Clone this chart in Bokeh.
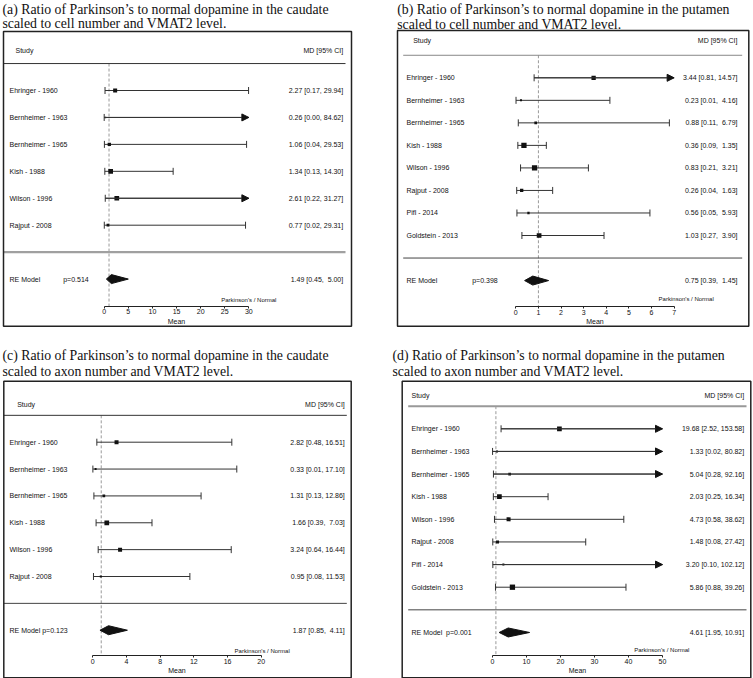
from bokeh.plotting import figure
from bokeh.models import (Range1d, FixedTicker, ColumnDataSource, Arrow,
                          NormalHead, BoxAnnotation)
from bokeh.layouts import column, row
from bokeh.embed import file_html
from bokeh.resources import INLINE
from bokeh.core.properties import value

# ---------------- data ----------------
studies_a = ["Ehringer - 1960", "Bernheimer - 1963", "Bernheimer - 1965",
             "Kish - 1988", "Wilson - 1996", "Rajput - 2008"]
md_a = [2.27, 0.26, 1.06, 1.34, 2.61, 0.77]
lo_a = [0.17, 0.00, 0.04, 0.13, 0.22, 0.02]
hi_a = [29.94, 84.62, 29.53, 14.30, 31.27, 29.31]
wt_a = [4.0, 1.5, 3.3, 4.7, 4.7, 2.7]
re_a = [1.49, 0.45, 5.00]
p_a = "p=0.514"
ticks_a = [0, 5, 10, 15, 20, 25, 30]

studies_b = ["Ehringer - 1960", "Bernheimer - 1963", "Bernheimer - 1965",
             "Kish - 1988", "Wilson - 1996", "Rajput - 2008", "Pifl - 2014",
             "Goldstein - 2013"]
md_b = [3.44, 0.23, 0.88, 0.36, 0.83, 0.26, 0.56, 1.03]
lo_b = [0.81, 0.01, 0.11, 0.09, 0.21, 0.04, 0.05, 0.27]
hi_b = [14.57, 4.16, 6.79, 1.35, 3.21, 1.63, 5.93, 3.90]
wt_b = [4.3, 2.0, 2.7, 5.3, 5.3, 3.3, 2.3, 4.7]
re_b = [0.75, 0.39, 1.45]
p_b = "p=0.398"
ticks_b = [0, 1, 2, 3, 4, 5, 6, 7]

studies_c = studies_a
md_c = [2.82, 0.33, 1.31, 1.66, 3.24, 0.95]
lo_c = [0.48, 0.01, 0.13, 0.39, 0.64, 0.08]
hi_c = [16.51, 17.10, 12.86, 7.03, 16.44, 11.53]
wt_c = [4.0, 2.0, 2.7, 4.7, 4.0, 2.0]
re_c = [1.87, 0.85, 4.11]
p_c = "p=0.123"
ticks_c = [0, 4, 8, 12, 16, 20]

studies_d = studies_b
md_d = [19.68, 1.33, 5.04, 2.03, 4.73, 1.48, 3.20, 5.86]
lo_d = [2.52, 0.02, 0.28, 0.25, 0.58, 0.08, 0.10, 0.88]
hi_d = [153.58, 80.82, 92.16, 16.34, 38.62, 27.42, 102.12, 39.26]
wt_d = [4.7, 2.0, 2.7, 4.7, 4.0, 3.0, 2.0, 5.3]
re_d = [4.61, 1.95, 10.91]
p_d = "p=0.001"
ticks_d = [0, 10, 20, 30, 40, 50]

titles = [
    ("(a) Ratio of Parkinson\u2019s to normal dopamine in the caudate",
     "scaled to cell number and VMAT2 level."),
    ("(b) Ratio of Parkinson\u2019s to normal dopamine in the putamen",
     "scaled to cell number and VMAT2 level."),
    ("(c) Ratio of Parkinson\u2019s to normal dopamine in the caudate",
     "scaled to axon number and VMAT2 level."),
    ("(d) Ratio of Parkinson\u2019s to normal dopamine in the putamen",
     "scaled to axon number and VMAT2 level."),
]
NULL_VALUE = 1.0
AXIS_LABEL = "Mean"
DIR_LABEL = "Parkinson's / Normal"
HEAD_L = "Study"
HEAD_R = "MD [95% CI]"

SANS = value("Liberation Sans")
SERIF = value("Liberation Serif")
INK = "#111111"
LINE = "#333333"


def ci_strings(md, lo, hi, re, pad):
    his = [f"{h:.2f}" for h in hi + [re[2]]]
    w = max(len(s) for s in his) if pad else 0
    out = []
    for m, l, hs in zip(md + [re[0]], lo + [re[1]], his):
        hs = "\u00a0" * (w - len(hs)) + hs if pad else hs
        out.append(f"{m:.2f} [{l:.2f}, {hs}]")
    return out[:-1], out[-1]


def forest(studies, md, lo, hi, wt, re, ptxt, ticks, title, L):
    """L holds page-pixel layout of one panel (positions, not data)."""
    k = len(studies)
    ox, oy, W, H = L["canvas"]
    z, ppu = L["zero"], L["ppu"]
    r0, sp = L["row"], L["sp"]

    def X(px):
        return (px - z) / ppu

    def Y(py):
        return k - (py - r0) / sp

    p = figure(width=W, height=H, output_backend="svg", toolbar_location=None,
               x_range=Range1d(X(ox), X(ox + W)),
               y_range=Range1d(Y(oy + H), Y(oy)),
               min_border_left=0, min_border_right=0,
               min_border_top=0, min_border_bottom=0,
               background_fill_color="white", border_fill_color="white",
               outline_line_color=None)
    p.yaxis.visible = False
    p.xgrid.visible = False
    p.ygrid.visible = False

    # outer box
    bl, br, bt, bb = L["box"]
    p.add_layout(BoxAnnotation(left=X(bl), right=X(br), top=Y(bt),
                               bottom=Y(bb), fill_color=None, fill_alpha=0,
                               line_color="#222222", line_alpha=1.0,
                               line_width=1.5))

    # two-line serif title
    p.text(x=[X(L["tx"])] * 2, y=[Y(L["ty"][0]), Y(L["ty"][1])],
           text=list(title), text_font=SERIF, text_font_size=value("13.8px"),
           text_color="#111111", text_baseline="middle", text_align="left")

    xmax = ticks[-1]
    ys = [k - i for i in range(k)]
    axis_y = Y(L["axis"])

    # reference line
    p.segment(x0=[NULL_VALUE], y0=[k + 1], x1=[NULL_VALUE], y1=[axis_y],
              line_color="#999999", line_width=1, line_dash="3 2")

    # header and separator lines
    lx0, lx1 = X(L["lx"][0]), X(L["lx"][1])
    p.segment(x0=[lx0], y0=[k + 1], x1=[lx1], y1=[k + 1],
              line_color=L["hcol"], line_width=L["hw"])
    p.segment(x0=[lx0], y0=[0], x1=[lx1], y1=[0],
              line_color=L["scol"], line_width=L["sw"])

    hic = [min(h, xmax) for h in hi]
    src = ColumnDataSource(dict(y=ys, md=md, lo=lo, hic=hic, wt=wt))
    p.segment(x0="lo", y0="y", x1="hic", y1="y", source=src,
              line_color=LINE, line_width=1)
    p.scatter(x="lo", y="y", source=src, marker="dash", angle=1.5708,
              size=7, line_color=LINE, line_width=1)
    capped = [i for i in range(k) if hi[i] <= xmax]
    p.scatter(x=[hi[i] for i in capped], y=[ys[i] for i in capped],
              marker="dash", angle=1.5708, size=7, line_color=LINE,
              line_width=1)
    arrows = [i for i in range(k) if hi[i] > xmax]
    if arrows:
        asrc = ColumnDataSource(dict(xs=[lo[i] for i in arrows],
                                     xe=[xmax] * len(arrows),
                                     y=[ys[i] for i in arrows]))
        p.add_layout(Arrow(end=NormalHead(size=7, fill_color="#111111",
                                          line_color="#111111"),
                           x_start="xs", y_start="y", x_end="xe", y_end="y",
                           source=asrc, line_color=LINE, line_width=1))
    p.scatter(x="md", y="y", size="wt", source=src, marker="square",
              fill_color="#111111", line_color=None)

    # summary diamond
    h = L["dh"] / sp
    p.patch(x=[re[1], re[0], re[2], re[0]], y=[-1, -1 + h, -1, -1 - h],
            fill_color="#111111", line_color="#111111")

    # texts
    cis, re_ci = ci_strings(md, lo, hi, re, L["pad"])
    tkw = dict(text_font=SANS, text_font_size=value("7px"),
               text_color=INK, text_baseline="middle")
    p.text(x=[X(L["lab"])] * k, y=ys, text=studies, text_align="left", **tkw)
    p.text(x=[X(L["rt"])] * k, y=ys, text=cis, text_align="right", **tkw)
    p.text(x=[X(L["st"])], y=[Y(L["head"])], text=[HEAD_L],
           text_align="left", **tkw)
    p.text(x=[X(L["rt"])], y=[Y(L["head"])], text=[HEAD_R],
           text_align="right", **tkw)
    if L["px"] is None:
        p.text(x=[X(L["lab"])], y=[-1], text=["RE Model " + ptxt],
               text_align="left", **tkw)
    else:
        p.text(x=[X(L["lab"])], y=[-1], text=["RE Model"],
               text_align="left", **tkw)
        p.text(x=[X(L["px"])], y=[-1], text=[ptxt], text_align="left", **tkw)
    p.text(x=[X(L["rt"])], y=[-1], text=[re_ci], text_align="right", **tkw)
    p.text(x=[X(L["pn"][0])], y=[Y(L["pn"][1])], text=[DIR_LABEL],
           text_align="center", text_baseline="middle", text_font=SANS,
           text_font_size=value("6px"), text_color=INK)

    ax = p.xaxis[0]
    ax.fixed_location = axis_y
    ax.bounds = (0, xmax)
    ax.ticker = FixedTicker(ticks=ticks)
    ax.major_tick_in = 0
    ax.major_tick_out = 2
    ax.minor_tick_in = 0
    ax.minor_tick_out = 0
    ax.major_label_standoff = 1
    ax.major_label_text_font = "Liberation Sans"
    ax.major_label_text_font_size = "7px"
    ax.major_label_text_color = INK
    ax.axis_label = AXIS_LABEL
    ax.axis_label_standoff = 0
    ax.axis_label_text_font = "Liberation Sans"
    ax.axis_label_text_font_size = "7px"
    ax.axis_label_text_font_style = "normal"
    ax.axis_label_text_color = INK
    ax.axis_line_color = "#222222"
    ax.major_tick_line_color = "#222222"
    return p


# page-pixel layout of each panel
LA = dict(canvas=(0, 0, 376, 340), box=(3, 351, 31, 325.7), tx=2, ty=(9, 23),
          zero=103.7, ppu=4.822, row=90, sp=26.94, axis=305.7, head=50,
          pn=(248.3, 299), lab=9, st=15, rt=342.7, px=62.7, lx=(3, 345),
          hcol="#333333", hw=1, scol="#a0a0a0", sw=2.2, dh=4.5, pad=True)
LB = dict(canvas=(376, 0, 377, 340), box=(397, 748.3, 30, 325.7), tx=396.7,
          ty=(9.3, 23.7), zero=515.3, ppu=22.62, row=77.3, sp=22.53,
          axis=306, head=40, pn=(685.7, 298.3), lab=406, st=412.7, rt=737,
          px=471.7, lx=(402.7, 741.7), hcol="#888888", hw=1,
          scol="#444444", sw=1, dh=4.5, pad=True)
LC = dict(canvas=(0, 340, 376, 338), box=(3.3, 350.7, 380.7, 677.3), tx=2,
          ty=(355, 371), zero=92.3, ppu=8.42, row=441.7, sp=26.86,
          axis=655, head=404, pn=(261.7, 650), lab=9, st=16.7, rt=344.3,
          px=None, lx=(3.3, 346.3), hcol="#333333", hw=1, scol="#444444",
          sw=1, dh=4.5, pad=True)
LD = dict(canvas=(376, 340, 377, 338), box=(401.7, 750.3, 380.7, 677.3),
          tx=392, ty=(355, 371), zero=492, ppu=3.4, row=428.3, sp=22.63,
          axis=655, head=395, pn=(661.3, 649.3), lab=411, st=411, rt=743.7,
          px=445.6, lx=(407.7, 746), hcol="#999999", hw=2, scol="#444444",
          sw=1, dh=4.5, pad=False)

fa = forest(studies_a, md_a, lo_a, hi_a, wt_a, re_a, p_a, ticks_a, titles[0], LA)
fb = forest(studies_b, md_b, lo_b, hi_b, wt_b, re_b, p_b, ticks_b, titles[1], LB)
fc = forest(studies_c, md_c, lo_c, hi_c, wt_c, re_c, p_c, ticks_c, titles[2], LC)
fd = forest(studies_d, md_d, lo_d, hi_d, wt_d, re_d, p_d, ticks_d, titles[3], LD)

layout = column(row(fa, fb), row(fc, fd))
open("out.html", "w").write(file_html(layout, INLINE))
